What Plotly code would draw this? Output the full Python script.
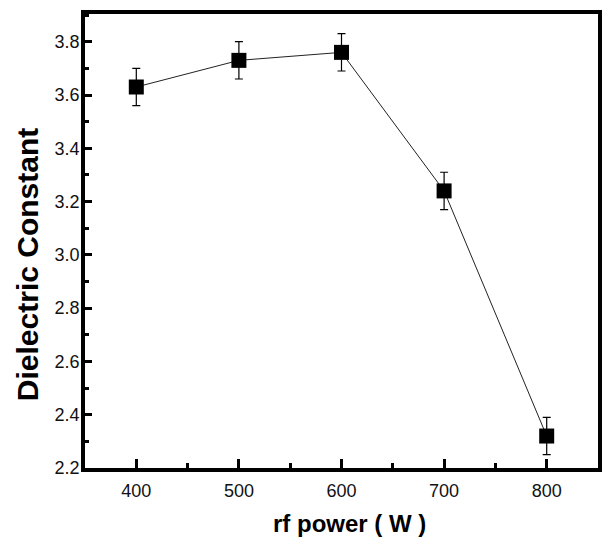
import plotly.graph_objects as go

rf_power = [400, 500, 600, 700, 800]
dielectric = [3.63, 3.73, 3.76, 3.24, 2.32]
error = [0.07, 0.07, 0.07, 0.07, 0.07]

x_ticks = [400, 500, 600, 700, 800]
y_ticks = [2.2, 2.4, 2.6, 2.8, 3.0, 3.2, 3.4, 3.6, 3.8]
y_tick_text = ["2.2", "2.4", "2.6", "2.8", "3.0", "3.2", "3.4", "3.6", "3.8"]

fig = go.Figure()
fig.add_trace(go.Scatter(
    x=rf_power, y=dielectric,
    mode="lines+markers",
    line=dict(color="#222222", width=1),
    marker=dict(symbol="square", size=15, color="black"),
    error_y=dict(type="data", array=error, visible=True, color="black",
                 thickness=1.2, width=4),
    showlegend=False,
))

font_family = "Liberation Sans, Arial, sans-serif"

fig.update_layout(
    width=612, height=552,
    margin=dict(l=85, r=10, t=13, b=84),
    paper_bgcolor="white", plot_bgcolor="white",
    font=dict(family=font_family, color="black"),
    xaxis=dict(
        range=[350, 850],
        tickvals=x_ticks,
        ticks="inside", ticklen=9, tickwidth=2.5, tickcolor="black",
        minor=dict(dtick=50, tick0=350, ticks="inside", ticklen=5, tickwidth=2.5, tickcolor="black"),
        showline=True, linewidth=3.5, linecolor="black", mirror=True,
        showgrid=False, zeroline=False,
        tickfont=dict(size=18, color="#111111"),
        ticklabelstandoff=4,
    ),
    yaxis=dict(
        range=[2.2, 3.904],
        tickvals=y_ticks, ticktext=y_tick_text,
        ticks="inside", ticklen=7, tickwidth=2.5, tickcolor="black",
        minor=dict(dtick=0.1, tick0=2.2, ticks="inside", ticklen=4, tickwidth=2.5, tickcolor="black"),
        showline=True, linewidth=3.5, linecolor="black", mirror=True,
        showgrid=False, zeroline=False,
        tickfont=dict(size=18, color="#111111"),
        ticklabelstandoff=-2,
    ),
    annotations=[
        dict(text="<b>Dielectric Constant</b>", textangle=-90,
             xref="paper", yref="paper", x=-0.112, y=0.448,
             xanchor="center", yanchor="middle", showarrow=False,
             font=dict(size=30, family=font_family, color="black")),
        dict(text="<b>rf power ( W )</b>",
             xref="paper", yref="paper", x=0.515, y=-0.123,
             xanchor="center", yanchor="middle", showarrow=False,
             font=dict(size=24, family=font_family, color="black")),
    ],
)

fig.write_html("out.html", config={"displayModeBar": False},
               post_script="document.body.style.margin='0';")
